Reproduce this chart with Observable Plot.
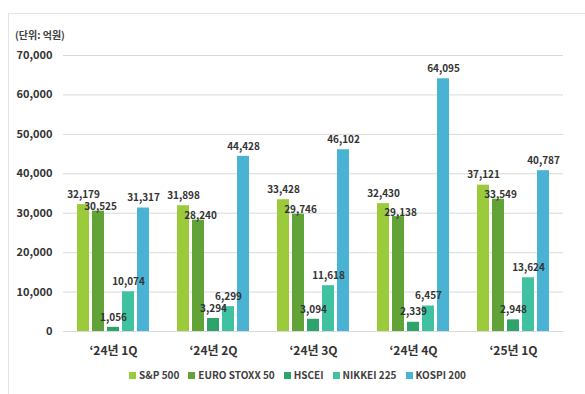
<!DOCTYPE html>
<html>
<head>
<meta charset="utf-8">
<script src="https://cdn.jsdelivr.net/npm/d3@7"></script>
<script src="https://cdn.jsdelivr.net/npm/@observablehq/plot@0.6"></script>
<style>
  html, body { margin: 0; padding: 0; background: #fff; }
  #wrap { position: relative; width: 585px; height: 394px; overflow: hidden; font-family: "Noto Sans CJK KR", "Noto Sans", sans-serif; }
  #frame { position: absolute; left: 8px; top: 13px; width: 600px; height: 400px; border: 1px solid #e4e4e4; box-sizing: border-box; }
  #unit { position: absolute; left: 15px; top: 27px; font-size: 10px; line-height: 16px; font-weight: bold; color: #404040; }
  #bg, #fg { position: absolute; left: 0; top: 45px; }
  #legend { position: absolute; top: 368px; left: 0; width: 585px; padding-left: 10px; box-sizing: border-box; display: flex; justify-content: center; gap: 9px; font-size: 10px; line-height: 14px; color: #404040; font-weight: bold; }
  #legend span.item { display: flex; align-items: center; gap: 3px; }
  #legend span.sw { width: 7px; height: 7px; display: inline-block; }
</style>
</head>
<body>
<div id="wrap">
  <div id="frame"></div>
  <div id="unit">(단위: 억원)</div>
  <div id="bg"></div>
  <div id="fg"></div>
  <div id="legend"></div>
</div>
<script>
const quarters = ["‘24년 1Q", "‘24년 2Q", "‘24년 3Q", "‘24년 4Q", "‘25년 1Q"];
const series = ["S&P 500", "EURO STOXX 50", "HSCEI", "NIKKEI 225", "KOSPI 200"];
const sp500 = [32179, 31898, 33428, 32430, 37121];
const eurostoxx50 = [30525, 28240, 29746, 29138, 33549];
const hscei = [1056, 3294, 3094, 2339, 2948];
const nikkei225 = [10074, 6299, 11618, 6457, 13624];
const kospi200 = [31317, 44428, 46102, 64095, 40787];
const colors = ["#9BCB3B", "#62A338", "#2FA36C", "#40C2A1", "#4AB3D3"];
const yTicks = [0, 10000, 20000, 30000, 40000, 50000, 60000, 70000];

const seriesValues = [sp500, eurostoxx50, hscei, nikkei225, kospi200];
const data = [];
quarters.forEach((q, i) => {
  series.forEach((s, j) => data.push({quarter: q, series: s, value: seriesValues[j][i]}));
});

const W = 585, H = 313;
const common = {
  width: W, height: H,
  marginTop: 10, marginLeft: 63, marginRight: 22, marginBottom: 27,
  style: {fontFamily: "'Noto Sans CJK KR', 'Noto Sans', sans-serif", background: "transparent"}
};

const bg = Plot.plot({
  ...common,
  y: {domain: [0, 70000], axis: null},
  marks: [
    Plot.ruleY(yTicks, {stroke: "#d9d9d9", strokeWidth: 1}),
    Plot.axisY(yTicks, {tickSize: 0, tickPadding: 11, tickFormat: d3.format(","), label: null,
      fontSize: 11, fontWeight: "bold", fill: "#333"})
  ]
});
document.getElementById("bg").appendChild(bg);

const fmt = d3.format(",");
const labelOpts = {fx: "quarter", x: "series", y: "value", text: d => fmt(d.value),
  fontSize: 10, fontWeight: "bold", fill: "#333"};
const fg = Plot.plot({
  ...common,
  fx: {domain: quarters, paddingInner: 0.28, paddingOuter: 0.14, label: null, axis: null},
  x: {domain: series, paddingInner: 0.2, paddingOuter: 0, axis: null},
  y: {domain: [0, 70000], axis: null},
  color: {domain: series, range: colors},
  marks: [
    Plot.barY(data, {fx: "quarter", x: "series", y: "value", fill: "series"}),
    Plot.text(data.filter(d => d.series !== "EURO STOXX 50"), {...labelOpts, dy: -10}),
    Plot.text(data.filter(d => d.series === "EURO STOXX 50"), {...labelOpts, dy: -4, dx: 2}),
    Plot.axisFx({anchor: "bottom", tickSize: 0, tickPadding: 15, label: null,
      fontSize: 12, fontWeight: "bold", fill: "#333"})
  ]
});
document.getElementById("fg").appendChild(fg);

const legend = document.getElementById("legend");
series.forEach((s, i) => {
  const item = document.createElement("span");
  item.className = "item";
  const sw = document.createElement("span");
  sw.className = "sw";
  sw.style.background = colors[i];
  const t = document.createElement("span");
  t.textContent = s;
  item.appendChild(sw); item.appendChild(t);
  legend.appendChild(item);
});
</script>
</body>
</html>
